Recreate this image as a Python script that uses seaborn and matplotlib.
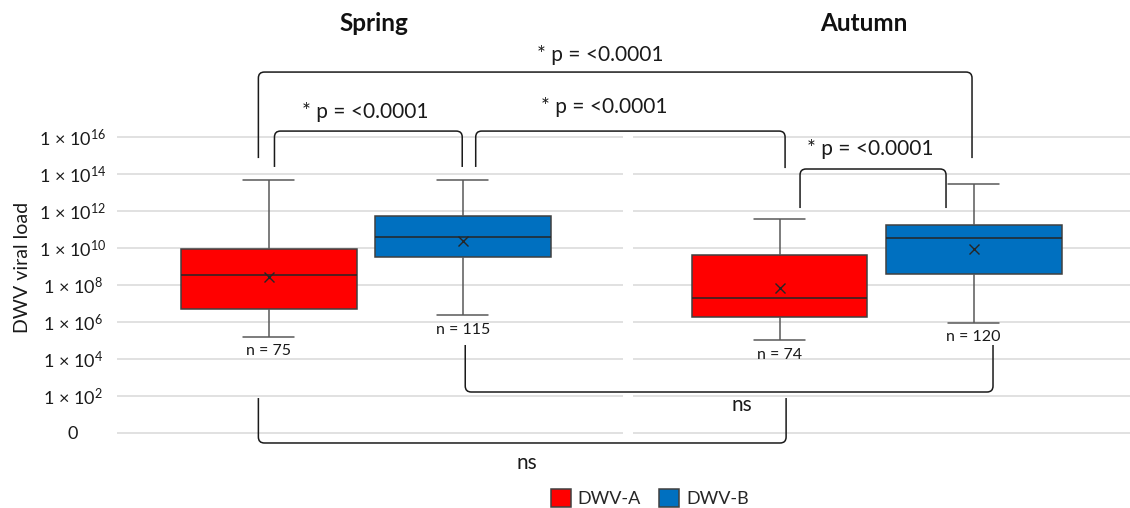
import numpy as np
import pandas as pd
import matplotlib
matplotlib.use("Agg")
import matplotlib.pyplot as plt
import seaborn as sns
from matplotlib.path import Path
from matplotlib.patches import PathPatch

# ---------------- data (log10 viral load) ----------------
seasons = ["Spring", "Autumn"]
variants = ["DWV-A", "DWV-B"]
group_season = ["Spring", "Spring", "Autumn", "Autumn"]
group_variant = ["DWV-A", "DWV-B", "DWV-A", "DWV-B"]
whisker_low = [5.19, 6.36, 5.01, 5.96]
q1 = [6.70, 9.53, 6.25, 8.61]
median = [8.56, 10.59, 7.28, 10.56]
q3 = [9.95, 11.73, 9.60, 11.25]
whisker_high = [13.68, 13.68, 11.57, 13.44]
means = [8.42, 10.39, 7.82, 9.94]
n_labels = ["n = 75", "n = 115", "n = 74", "n = 120"]
ytick_vals = [0, 2, 4, 6, 8, 10, 12, 14, 16]
ytick_labels = ["0", "1 × 10$^{2}$", "1 × 10$^{4}$", "1 × 10$^{6}$", "1 × 10$^{8}$",
                "1 × 10$^{10}$", "1 × 10$^{12}$", "1 × 10$^{14}$", "1 × 10$^{16}$"]
p_label = "* p = <0.0001"
ns_label = "ns"

colors = {"DWV-A": "#FF0000", "DWV-B": "#0070C0"}

# ---------------- style ----------------
sns.set_theme(style="white")
plt.rcParams["font.family"] = ["Lato", "DejaVu Sans"]
plt.rcParams["mathtext.fontset"] = "custom"
plt.rcParams["mathtext.rm"] = "Lato"
plt.rcParams["mathtext.it"] = "Lato:italic"
plt.rcParams["mathtext.bf"] = "Lato:bold"

fig = plt.figure(figsize=(11.3, 5.08), dpi=100)
ax = fig.add_axes([117 / 1130, 0, 1013 / 1130, 1])

# long table built from the five-number summaries
rows = []
for s, v, a, b, c, d, e in zip(group_season, group_variant, whisker_low, q1, median, q3, whisker_high):
    for val in (a, b, c, d, e):
        rows.append({"season": s, "variant": v, "load": val})
df = pd.DataFrame(rows)
mean_df = pd.DataFrame({"season": group_season, "variant": group_variant, "mean": means})

# grid lines (two panels with a small gap between them)
xl, xr = -0.4873, 1.4960
ax.set_xlim(xl, xr)
ax.set_ylim(-4.054, 23.405)
gap_l, gap_r = 0.5037, 0.5233
ax.hlines(ytick_vals, xl, gap_l, color="#dcdcdc", lw=1.2, zorder=0)
ax.hlines(ytick_vals, gap_r, xr, color="#dcdcdc", lw=1.2, zorder=0)

sns.boxplot(data=df, x="season", y="load", hue="variant", order=seasons, hue_order=variants,
            palette=colors, saturation=1, width=0.76, gap=0.095, whis=(0, 100), fliersize=0,
            linecolor="#404040", linewidth=1.1, ax=ax, capwidths=0.1,
            whiskerprops=dict(color="#595959"), capprops=dict(color="#595959"),
            medianprops=dict(color="#262626"))

sns.pointplot(data=mean_df, x="season", y="mean", hue="variant", order=seasons, hue_order=variants,
              palette={"DWV-A": "#262626", "DWV-B": "#262626"}, dodge=0.38, markers="x",
              linestyles="none", errorbar=None, legend=False, ax=ax,
              markersize=7, markeredgewidth=1.0)

ax.set_xlim(xl, xr)
ax.set_ylim(-4.054, 23.405)

# n labels below the lower whiskers
offsets = {"DWV-A": -0.19, "DWV-B": 0.19}
for s, v, wl, lab in zip(group_season, group_variant, whisker_low, n_labels):
    xc = seasons.index(s) + offsets[v]
    ax.text(xc, wl - 0.78, lab, ha="center", va="center", fontsize=11.5, color="#1a1a1a")

# axes cosmetics
for sp in ax.spines.values():
    sp.set_visible(False)
ax.set_xticks([])
ax.set_xlabel("")
ax.set_yticks(ytick_vals, ytick_labels)
ax.tick_params(axis="y", length=0, pad=31.7, labelsize=13, labelcolor="#1a1a1a")
for t in ax.get_yticklabels():
    t.set_ha("center")
ax.set_ylabel("DWV viral load", fontsize=14, color="#1a1a1a")
ax.yaxis.set_label_coords(-0.085, 0.474)

# season titles
ax.text(0.0164, 22.11, "Spring", ha="center", va="center", fontsize=17.5, fontweight="bold", color="#111111")
ax.text(0.9753, 22.11, "Autumn", ha="center", va="center", fontsize=17.5, fontweight="bold", color="#111111")

# significance brackets
rx, ry = 6 / 511, 6 / 18.5


def bracket(x0, x1, yh, ya, yb):
    sa = 1 if yh > ya else -1
    sb = 1 if yh > yb else -1
    verts = [(x0, ya), (x0, yh - sa * ry), (x0, yh), (x0 + rx, yh),
             (x1 - rx, yh), (x1, yh), (x1, yh - sb * ry), (x1, yb)]
    codes = [Path.MOVETO, Path.LINETO, Path.CURVE3, Path.CURVE3,
             Path.LINETO, Path.CURVE3, Path.CURVE3, Path.LINETO]
    ax.add_patch(PathPatch(Path(verts, codes), fill=False, edgecolor="#1a1a1a", lw=1.1, zorder=6))


bracket(-0.2105, 1.1867, 19.51, 14.86, 14.86)
bracket(-0.179, 0.1886, 16.32, 14.38, 14.38)
bracket(0.215, 0.8207, 16.32, 14.38, 14.32)
bracket(0.850, 1.1358, 14.27, 12.16, 12.16)
bracket(0.1945, 1.2278, 2.216, 4.757, 4.757)
bracket(-0.2105, 0.8227, -0.54, 1.89, 1.89)

ptxt = dict(ha="center", va="center", fontsize=15, color="#1a1a1a")
ax.text(0.4587, 20.43, p_label, **ptxt)
ax.text(-0.0012, 17.35, p_label, **ptxt)
ax.text(0.4667, 17.62, p_label, **ptxt)
ax.text(0.9871, 15.35, p_label, **ptxt)
ax.text(0.7366, 1.51, ns_label, **ptxt)
ax.text(0.316, -1.62, ns_label, **ptxt)

# legend
sns.move_legend(ax, "lower center", bbox_to_anchor=(0.526, -0.03), ncol=2, frameon=False,
                title=None, fontsize=13, handlelength=1.1, handleheight=1.1,
                columnspacing=1.0, handletextpad=0.4)

fig.savefig("out.png", dpi=100)
